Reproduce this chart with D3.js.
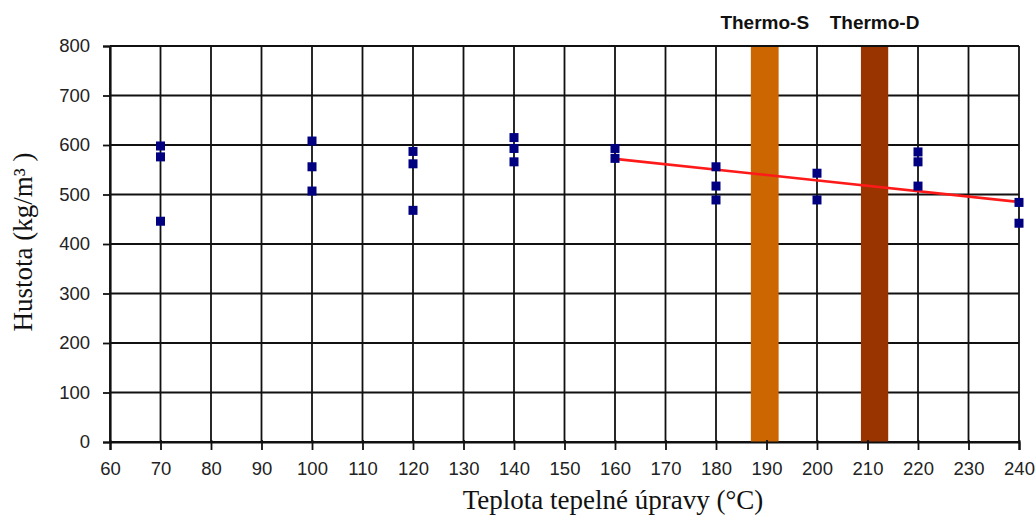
<!DOCTYPE html>
<html>
<head>
<meta charset="utf-8">
<script src="https://cdn.jsdelivr.net/npm/d3@7"></script>
<style>
  body { margin: 0; background: #fff; }
  svg { display: block; }
</style>
</head>
<body>
<svg id="chart" width="1036" height="516"></svg>
<script>
// measured density at each treatment temperature
const temps = [70, 70, 70, 100, 100, 100, 120, 120, 120, 140, 140, 140, 160, 160, 180, 180, 180, 200, 200, 220, 220, 220, 240, 240];
const density = [598, 576, 446, 608, 556, 507, 587, 562, 468, 615, 593, 566, 593, 573, 556, 517, 489, 543, 489, 586, 566, 517, 484, 442];

// linear trend from 160 to 240
const trendX = [160, 240];
const trendY = [572, 485];

// Thermo-S / Thermo-D bands (temperature ranges)
const bandNames = ["Thermo-S", "Thermo-D"];
const bandFrom = [186.9, 208.7];
const bandTo = [192.4, 214.1];
const bandColors = ["#cc6600", "#993300"];

const xTicks = d3.range(60, 241, 10);
const yTicks = d3.range(0, 801, 100);

const margin = { left: 110, right: 17, top: 46, bottom: 74 };
const width = 1036, height = 516;

const svg = d3.select("#chart");
const x = d3.scaleLinear().domain([60, 240]).range([margin.left, width - margin.right]);
const y = d3.scaleLinear().domain([0, 800]).range([height - margin.bottom, margin.top]);

// grid
svg.append("g")
  .selectAll("line.v")
  .data(xTicks)
  .join("line")
  .attr("x1", d => x(d)).attr("x2", d => x(d))
  .attr("y1", y(800)).attr("y2", y(0))
  .attr("stroke", "#111").attr("stroke-width", 1.8);

svg.append("g")
  .selectAll("line.h")
  .data(yTicks)
  .join("line")
  .attr("x1", x(60)).attr("x2", x(240))
  .attr("y1", d => y(d)).attr("y2", d => y(d))
  .attr("stroke", "#111").attr("stroke-width", 1.8);

// bands
svg.append("g")
  .selectAll("rect")
  .data(bandNames)
  .join("rect")
  .attr("x", (d, i) => x(bandFrom[i]))
  .attr("width", (d, i) => x(bandTo[i]) - x(bandFrom[i]))
  .attr("y", y(800) + 1)
  .attr("height", y(0) - y(800) - 1)
  .attr("fill", (d, i) => bandColors[i]);

svg.append("g")
  .selectAll("text")
  .data(bandNames)
  .join("text")
  .attr("x", (d, i) => x((bandFrom[i] + bandTo[i]) / 2))
  .attr("y", 29)
  .attr("text-anchor", "middle")
  .style("font-family", "Liberation Sans, Arial, sans-serif")
  .style("font-weight", "bold")
  .style("font-size", "19px")
  .attr("fill", "#111")
  .text(d => d);

// axes
const xAxis = svg.append("g")
  .attr("transform", `translate(0,${y(0)})`)
  .call(d3.axisBottom(x).tickValues(xTicks).tickSize(8).tickPadding(12));
const yAxis = svg.append("g")
  .attr("transform", `translate(${x(60)},0)`)
  .call(d3.axisLeft(y).tickValues(yTicks).tickSize(7).tickPadding(13));

[xAxis, yAxis].forEach(a => {
  a.select(".domain").attr("stroke", "#111").attr("stroke-width", 2.2);
  a.selectAll(".tick line").attr("stroke", "#111").attr("stroke-width", 1.8);
  a.selectAll("text")
    .style("font-family", "Liberation Sans, Arial, sans-serif")
    .style("font-size", "18.5px")
    .attr("fill", "#222");
});
xAxis.selectAll(".tick line").attr("y1", -2);

// trend line
svg.append("line")
  .attr("x1", x(trendX[0])).attr("y1", y(trendY[0]))
  .attr("x2", x(trendX[1])).attr("y2", y(trendY[1]))
  .attr("stroke", "#ff1a1a").attr("stroke-width", 2.6);

// points
svg.append("g")
  .selectAll("rect")
  .data(temps)
  .join("rect")
  .attr("x", d => x(d) - 4.5)
  .attr("y", (d, i) => y(density[i]) - 4.5)
  .attr("width", 9).attr("height", 9)
  .attr("fill", "#000080");

// axis titles
svg.append("text")
  .attr("x", 613).attr("y", 509)
  .attr("text-anchor", "middle")
  .style("font-family", "Liberation Serif, Times New Roman, serif")
  .style("font-size", "27px")
  .attr("fill", "#111")
  .text("Teplota tepelné úpravy (°C)");

svg.append("text")
  .attr("transform", "translate(32,242) rotate(-90)")
  .attr("text-anchor", "middle")
  .style("font-family", "Liberation Serif, Times New Roman, serif")
  .style("font-size", "27px")
  .attr("fill", "#111")
  .text("Hustota (kg/m³ )");
</script>
</body>
</html>
